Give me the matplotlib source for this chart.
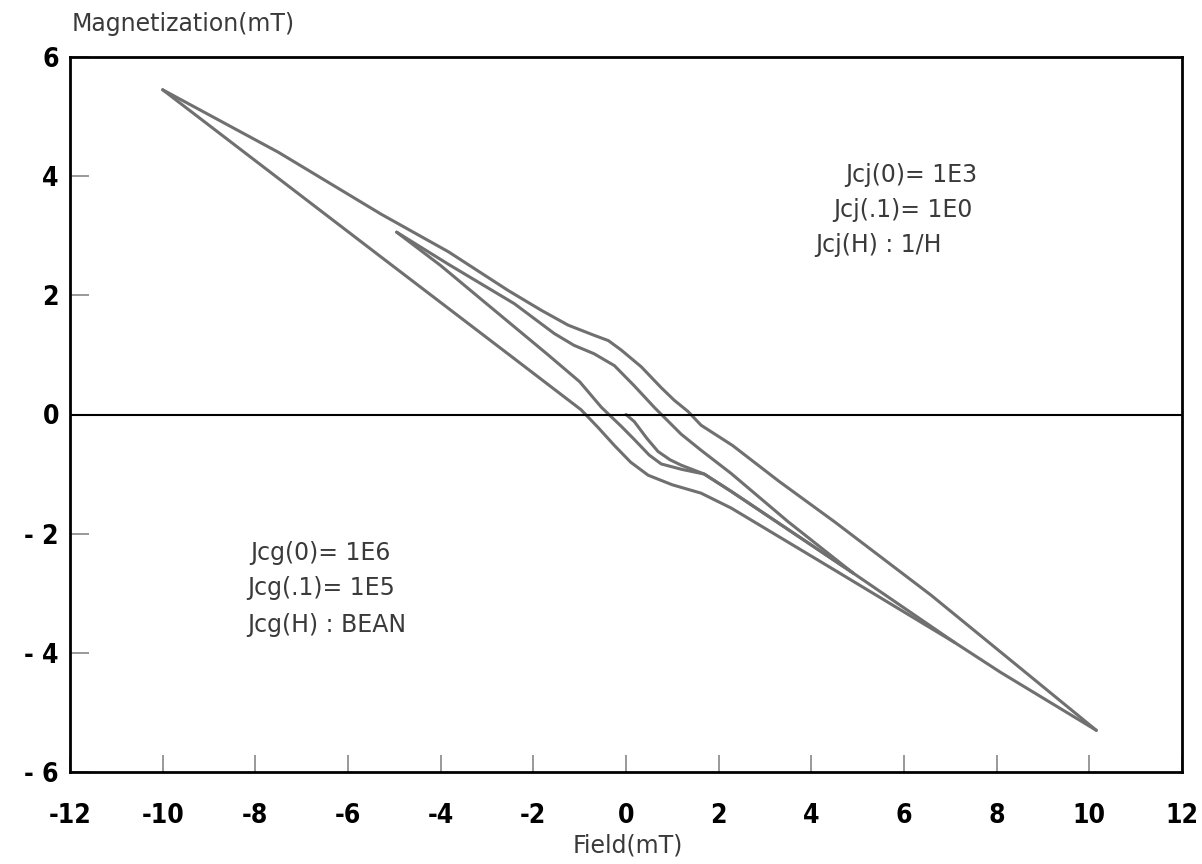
import matplotlib
matplotlib.use("Agg")
import matplotlib.pyplot as plt

# outer loop, field going down from +10 to -10
field_down_outer = [10.15, 8.5, 6.58, 4.5, 3.3, 2.3, 1.62, 1.34, 1.04, 0.76, 0.33,
                    -0.10, -0.38, -0.69, -1.25, -1.83, -2.54, -3.83, -5.28, -7.5, -10.0]
mag_down_outer = [-5.30, -4.25, -3.03, -1.80, -1.12, -0.52, -0.18, 0.05, 0.24, 0.45, 0.80,
                  1.08, 1.24, 1.33, 1.50, 1.75, 2.08, 2.73, 3.36, 4.40, 5.45]

# outer loop, field going up from -10 to +10
field_up_outer = [-10.0, -5.28, -2.5, -0.97, -0.6, -0.25, 0.1, 0.48, 1.0, 1.62, 2.27,
                  4.5, 7.1, 8.09, 10.15]
mag_up_outer = [5.45, 2.64, 0.99, 0.08, -0.22, -0.52, -0.80, -1.02, -1.18, -1.32, -1.57,
                -2.61, -3.83, -4.33, -5.30]

# inner branch, field going down from +5 to -5
field_down_inner = [4.90, 3.5, 2.27, 1.62, 1.19, 0.61, 0.18, -0.25, -0.69, -1.12, -1.55,
                    -2.41, -3.83, -4.95]
mag_down_inner = [-2.66, -1.80, -0.99, -0.60, -0.33, 0.12, 0.48, 0.82, 1.02, 1.16, 1.36,
                  1.86, 2.52, 3.06]

# inner branch, field going up from -5 (joins the outer branch near 7)
field_up_inner = [-4.95, -4.0, -3.12, -1.68, -1.0, -0.53, -0.1, 0.18, 0.5, 0.76, 1.2,
                  1.69, 2.27, 4.9, 7.1]
mag_up_inner = [3.06, 2.50, 1.93, 1.00, 0.55, 0.12, -0.20, -0.42, -0.68, -0.83, -0.92,
                -1.00, -1.29, -2.66, -3.83]

# virgin curve from the origin
field_virgin = [0.0, 0.18, 0.45, 0.69, 0.95, 1.19, 1.69, 2.27, 4.9]
mag_virgin = [0.0, -0.12, -0.40, -0.62, -0.76, -0.85, -1.00, -1.29, -2.66]

xticks = list(range(-12, 13, 2))
yticks = list(range(-6, 7, 2))
ytick_labels = ['- 6', '- 4', '- 2', '0', '2', '4', '6']

W, H = 1202, 864
fig = plt.figure(figsize=(W / 100, H / 100), dpi=100)
ax = fig.add_axes([70 / W, 1 - 772 / H, (1182 - 70) / W, (772 - 57) / H])

line_kw = dict(color='#707070', lw=2.2, solid_joinstyle='round', solid_capstyle='round')
for xs, ys in [(field_down_outer, mag_down_outer), (field_up_outer, mag_up_outer),
               (field_down_inner, mag_down_inner), (field_up_inner, mag_up_inner),
               (field_virgin, mag_virgin)]:
    ax.plot(xs, ys, **line_kw)

ax.axhline(0, color='black', lw=1.5)

ax.set_xlim(-12, 12)
ax.set_ylim(-6, 6)
for s in ax.spines.values():
    s.set_linewidth(2.0)
    s.set_color('black')

tick_font = dict(family='DejaVu Sans', stretch='condensed', weight='bold', size=19)
ax.set_xticks(xticks)
ax.set_xticklabels([str(v) for v in xticks], fontdict=tick_font)
ax.set_yticks(yticks)
ax.set_yticklabels(ytick_labels, fontdict=tick_font)
ax.tick_params(axis='x', direction='in', length=12, width=1.2, color='#888888', pad=22)
ax.tick_params(axis='y', direction='in', length=14, width=1.2, color='#888888', pad=8)

text_kw = dict(fontsize=17, color='#3a3a3a', family='DejaVu Sans')
fig.text(72 / W, 1 - 24 / H, 'Magnetization(mT)', ha='left', va='center', **text_kw)
fig.text(628 / W, 1 - 846 / H, 'Field(mT)', ha='center', va='center', **text_kw)

fig.text(845 / W, 1 - 175 / H, 'Jcj(0)= 1E3', ha='left', va='center', **text_kw)
fig.text(833 / W, 1 - 210 / H, 'Jcj(.1)= 1E0', ha='left', va='center', **text_kw)
fig.text(815 / W, 1 - 245 / H, 'Jcj(H) : 1/H', ha='left', va='center', **text_kw)

fig.text(250 / W, 1 - 553 / H, 'Jcg(0)= 1E6', ha='left', va='center', **text_kw)
fig.text(247 / W, 1 - 588 / H, 'Jcg(.1)= 1E5', ha='left', va='center', **text_kw)
fig.text(247 / W, 1 - 625 / H, 'Jcg(H) : BEAN', ha='left', va='center', **text_kw)

fig.savefig('out.png', dpi=100)
